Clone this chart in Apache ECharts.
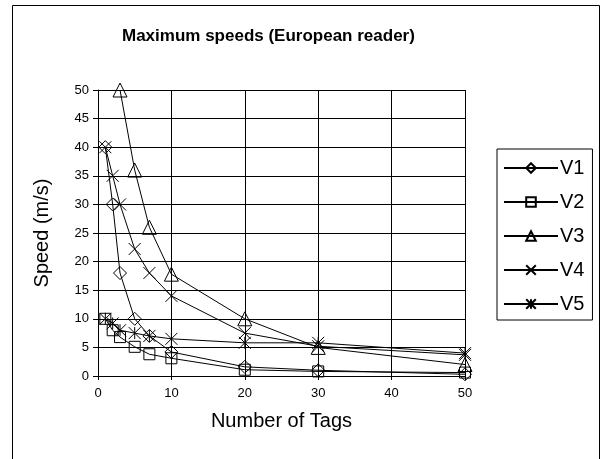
<!DOCTYPE html>
<html>
<head>
<meta charset="utf-8">
<script src="https://cdn.jsdelivr.net/npm/echarts@6/dist/echarts.min.js"></script>
<style>
html,body{margin:0;padding:0;background:#fff;}
#c{width:603px;height:459px;}
</style>
</head>
<body>
<div id="c"></div>
<script>
const tags = [1, 2, 3, 5, 7, 10, 20, 30, 50];
const v1 = [40, 30, 18, 10, 7, 4.2, 1.6, 1, 0.3];
const v2 = [10, 8, 6.8, 5.1, 3.8, 3.1, 1.1, 0.8, 0.6];
const v3 = [null, null, 50, 36, 26, 17.8, 10, 5, 2];
const v4 = [40, 35, 30, 22.2, 18, 14, 7.5, 5.2, 3.7];
const v5 = [10, 9.2, 8, 7.5, 7, 6.5, 5.8, 5.8, 4];
const seriesNames = ['V1', 'V2', 'V3', 'V4', 'V5'];
const yTicks = [0, 5, 10, 15, 20, 25, 30, 35, 40, 45, 50];
const xTicks = [0, 10, 20, 30, 40, 50];

const font = 'Arial, "Liberation Sans", sans-serif';
const xPath = 'path://M0,0L10,10M10,0L0,10';
const starPath = 'path://M0,0L10,10M10,0L0,10M5,0L5,10';
const symbols = ['diamond', 'rect', 'triangle', xPath, starPath];
const sizes = [13, 11, 14, 12, 12];
const allData = [v1, v2, v3, v4, v5];

const chart = echarts.init(document.getElementById('c'), null, {renderer: 'canvas'});
const series = seriesNames.map((n, i) => ({
  name: n,
  type: 'line',
  data: tags.map((t, j) => [t, allData[i][j]]).filter(p => p[1] !== null),
  symbol: symbols[i],
  symbolSize: sizes[i],
  showAllSymbol: true,
  lineStyle: {color: '#000', width: 1},
  itemStyle: {color: 'rgba(0,0,0,0)', borderColor: '#000', borderWidth: 1},
  emphasis: {disabled: true},
  animation: false,
  clip: false
}));

chart.setOption({
  animation: false,
  backgroundColor: '#fff',
  title: {
    text: 'Maximum speeds (European reader)',
    left: 117, top: 23,
    textStyle: {fontFamily: font, fontWeight: 'bold', fontSize: 17, color: '#000'}
  },
  graphic: [{
    type: 'rect', shape: {x: 12.5, y: 5.5, width: 587, height: 470},
    style: {fill: 'none', stroke: '#000', lineWidth: 1}, silent: true
  }],
  legend: {
    orient: 'vertical',
    left: 497, top: 149,
    padding: [9, 8, 6, 6],
    itemWidth: 54, itemHeight: 12, itemGap: 14,
    borderColor: '#000', borderWidth: 1,
    backgroundColor: '#fff',
    data: seriesNames,
    textStyle: {fontFamily: font, fontSize: 20, color: '#000', lineHeight: 18, padding: [0, 0, 0, -3]}
  },
  grid: {left: 98, right: 138, top: 90, bottom: 83, containLabel: false},
  xAxis: {
    type: 'value', min: 0, max: 50, interval: 10,
    name: 'Number of Tags', nameLocation: 'middle', nameGap: 35,
    nameTextStyle: {fontFamily: font, fontSize: 20, color: '#000'},
    axisLine: {show: true, lineStyle: {color: '#000', width: 1}},
    axisTick: {show: true, length: 4, lineStyle: {color: '#000'}},
    axisLabel: {fontFamily: font, fontSize: 13, color: '#000', margin: 11,
      formatter: v => xTicks.includes(v) ? String(v) : ''},
    splitLine: {show: true, lineStyle: {color: '#000', width: 1}}
  },
  yAxis: {
    type: 'value', min: 0, max: 50, interval: 5,
    name: 'Speed (m/s)', nameLocation: 'middle', nameGap: 46, nameRotate: 90,
    nameTextStyle: {fontFamily: font, fontSize: 20, color: '#000'},
    axisLine: {show: true, lineStyle: {color: '#000', width: 1}},
    axisTick: {show: true, length: 5, lineStyle: {color: '#000'}},
    axisLabel: {fontFamily: font, fontSize: 13, color: '#000', margin: 9,
      formatter: v => yTicks.includes(v) ? String(v) : ''},
    splitLine: {show: true, lineStyle: {color: '#000', width: 1}}
  },
  series: series
});
</script>
</body>
</html>
